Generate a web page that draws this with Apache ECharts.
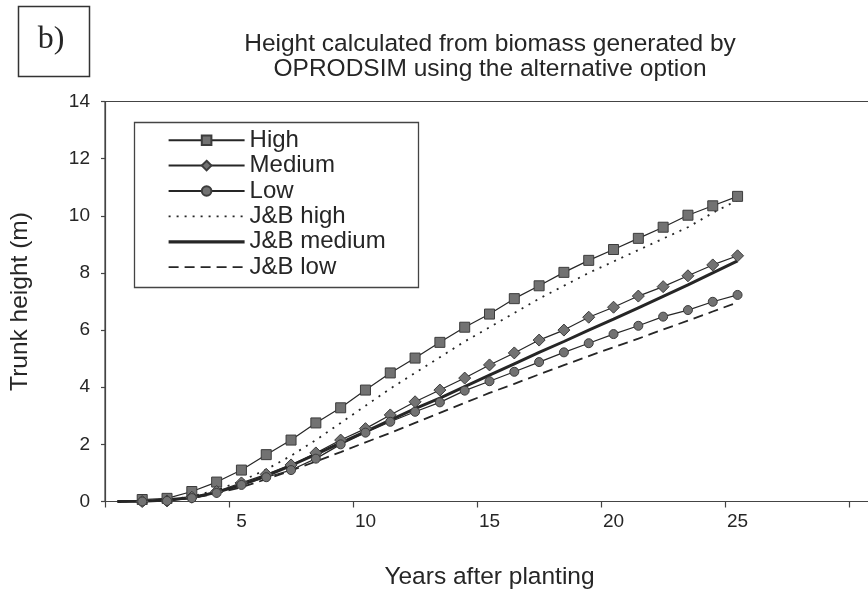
<!DOCTYPE html>
<html>
<head>
<meta charset="utf-8">
<script src="https://cdn.jsdelivr.net/npm/echarts@6/dist/echarts.min.js"></script>
<style>
  html, body { margin: 0; padding: 0; background: #ffffff; }
  #chart { width: 868px; height: 593px; }
</style>
</head>
<body>
<div id="chart"></div>
<script>
// Years with simulated (marker) values
var years = [1, 2, 3, 4, 5, 6, 7, 8, 9, 10, 11, 12, 13, 14, 15, 16, 17, 18, 19, 20, 21, 22, 23, 24, 25];
var high = [0.07, 0.11, 0.35, 0.68, 1.10, 1.64, 2.15, 2.75, 3.28, 3.90, 4.50, 5.02, 5.57, 6.10, 6.56, 7.10, 7.55, 8.02, 8.44, 8.82, 9.21, 9.60, 10.02, 10.35, 10.68];
var medium = [0.00, 0.02, 0.15, 0.35, 0.65, 0.95, 1.28, 1.70, 2.15, 2.55, 3.03, 3.49, 3.90, 4.32, 4.78, 5.20, 5.65, 6.00, 6.45, 6.80, 7.19, 7.52, 7.90, 8.28, 8.60];
var low = [0.00, 0.02, 0.12, 0.30, 0.58, 0.85, 1.10, 1.50, 2.00, 2.41, 2.79, 3.14, 3.47, 3.88, 4.21, 4.54, 4.88, 5.22, 5.54, 5.86, 6.15, 6.47, 6.70, 6.99, 7.23];

// Years for the J&B reference curves (start at planting)
var jbYears = [0, 1, 2, 3, 4, 5, 6, 7, 8, 9, 10, 11, 12, 13, 14, 15, 16, 17, 18, 19, 20, 21, 22, 23, 24, 25];
var jbHigh = [0, 0.02, 0.06, 0.18, 0.40, 0.72, 1.12, 1.60, 2.15, 2.75, 3.35, 3.95, 4.50, 5.05, 5.60, 6.10, 6.60, 7.10, 7.55, 8.00, 8.40, 8.80, 9.20, 9.60, 10.10, 10.55];
var jbMedium = [0, 0.01, 0.05, 0.14, 0.32, 0.58, 0.90, 1.26, 1.65, 2.05, 2.45, 2.85, 3.25, 3.62, 4.02, 4.42, 4.82, 5.22, 5.60, 6.00, 6.38, 6.78, 7.18, 7.58, 8.00, 8.42];
var jbLow = [0, 0.01, 0.04, 0.12, 0.28, 0.50, 0.78, 1.08, 1.40, 1.73, 2.07, 2.40, 2.75, 3.10, 3.45, 3.80, 4.12, 4.45, 4.77, 5.09, 5.40, 5.70, 6.02, 6.33, 6.65, 6.97];

// Axis categories: one band per year, 0 to 30; labelled every fifth year
var axisYears = [];
for (var k = 0; k <= 30; k++) axisYears.push(String(k));
var labelledYears = [5, 10, 15, 20, 25];

var FONT = "'Liberation Sans', Arial, sans-serif";
var INK = '#262626';

function pairs(xs, ys) {
  return xs.map(function (x, i) { return [x, ys[i]]; });
}

function markerSeries(name, ys, symbol, size) {
  return {
    name: name,
    type: 'line',
    data: pairs(years, ys),
    symbol: symbol,
    symbolSize: size,
    showSymbol: true,
    z: 3,
    lineStyle: { color: INK, width: 1.2 },
    itemStyle: { color: '#727272', borderColor: '#3c3c3c', borderWidth: 1 }
  };
}

function curveSeries(name, ys, width, type) {
  return {
    name: name,
    type: 'line',
    data: pairs(jbYears, ys),
    symbol: 'none',
    z: 2,
    lineStyle: { color: INK, width: width, type: type },
    itemStyle: { color: INK }
  };
}

// Legend entries: the J&B curves show only their line style
var legendItems = [
  { name: 'High' },
  { name: 'Medium' },
  { name: 'Low' },
  { name: 'J&B high', itemStyle: { opacity: 0 }, lineStyle: { width: 1.8, type: [2, 6] } },
  { name: 'J&B medium', itemStyle: { opacity: 0 }, lineStyle: { width: 3.2, type: 'solid' } },
  { name: 'J&B low', itemStyle: { opacity: 0 }, lineStyle: { width: 1.8, type: [10, 6] } }
];

var chart = echarts.init(document.getElementById('chart'), null, { renderer: 'canvas' });

chart.setOption({
  animation: false,
  backgroundColor: '#ffffff',
  textStyle: { fontFamily: FONT },
  grid: {
    left: 105,
    top: 101.5,
    width: 769,
    height: 400,
    show: true,
    borderColor: '#444444',
    borderWidth: 1.2,
    containLabel: false,
    outerBoundsMode: 'none'
  },
  legend: {
    data: legendItems,
    orient: 'vertical',
    left: 167,
    top: 127.5,
    padding: 0,
    itemWidth: 76,
    itemHeight: 12,
    itemGap: 0,
    textStyle: { fontFamily: FONT, fontSize: 24, lineHeight: 25.4, color: INK },
    inactiveColor: '#999999'
  },
  xAxis: {
    type: 'category',
    data: axisYears,
    boundaryGap: true,
    name: 'Years after planting',
    nameLocation: 'middle',
    nameGap: 63,
    nameTextStyle: { fontFamily: FONT, fontSize: 24.5, color: INK },
    axisLine: { lineStyle: { color: '#444444', width: 1.2 } },
    axisTick: {
      show: true,
      inside: false,
      length: 6,
      interval: function (index) { return index % 5 === 0; },
      lineStyle: { color: '#444444', width: 1.2 }
    },
    axisLabel: {
      interval: function (index) { return labelledYears.indexOf(index) >= 0; },
      margin: 11,
      fontFamily: FONT,
      fontSize: 19,
      color: INK
    },
    splitLine: { show: false }
  },
  yAxis: {
    type: 'value',
    min: 0,
    max: 14,
    interval: 2,
    name: 'Trunk height (m)',
    nameLocation: 'middle',
    nameGap: 72,
    nameTextStyle: { fontFamily: FONT, fontSize: 24.5, color: INK },
    axisLine: { show: true, lineStyle: { color: '#444444', width: 1.2 } },
    axisTick: { show: true, inside: false, length: 4, lineStyle: { color: '#444444', width: 1.2 } },
    axisLabel: { margin: 15, fontFamily: FONT, fontSize: 19, color: INK },
    splitLine: { show: false }
  },
  graphic: [
    {
      type: 'rect',
      shape: { x: 18.5, y: 6.5, width: 71, height: 70 },
      style: { fill: 'none', stroke: '#333333', lineWidth: 1.5 },
      silent: true
    },
    {
      type: 'text',
      x: 51,
      y: 40,
      style: {
        text: 'b)',
        font: "32px 'Liberation Serif', 'Times New Roman', serif",
        fill: INK,
        align: 'center',
        verticalAlign: 'middle'
      },
      silent: true
    },
    {
      type: 'text',
      x: 490,
      y: 57,
      style: {
        text: 'Height calculated from biomass generated by\nOPRODSIM using the alternative option',
        font: "24.5px " + FONT,
        lineHeight: 25,
        fill: INK,
        align: 'center',
        verticalAlign: 'middle'
      },
      silent: true
    },
    {
      type: 'rect',
      shape: { x: 134.5, y: 122.5, width: 284, height: 165 },
      style: { fill: 'none', stroke: '#444444', lineWidth: 1.3 },
      silent: true,
      z: 10
    }
  ],
  series: [
    markerSeries('High', high, 'rect', 10),
    markerSeries('Medium', medium, 'diamond', 12),
    markerSeries('Low', low, 'circle', 9),
    curveSeries('J&B high', jbHigh, 1.8, [2, 6]),
    curveSeries('J&B medium', jbMedium, 3, 'solid'),
    curveSeries('J&B low', jbLow, 1.8, [10, 6])
  ]
});
</script>
</body>
</html>
